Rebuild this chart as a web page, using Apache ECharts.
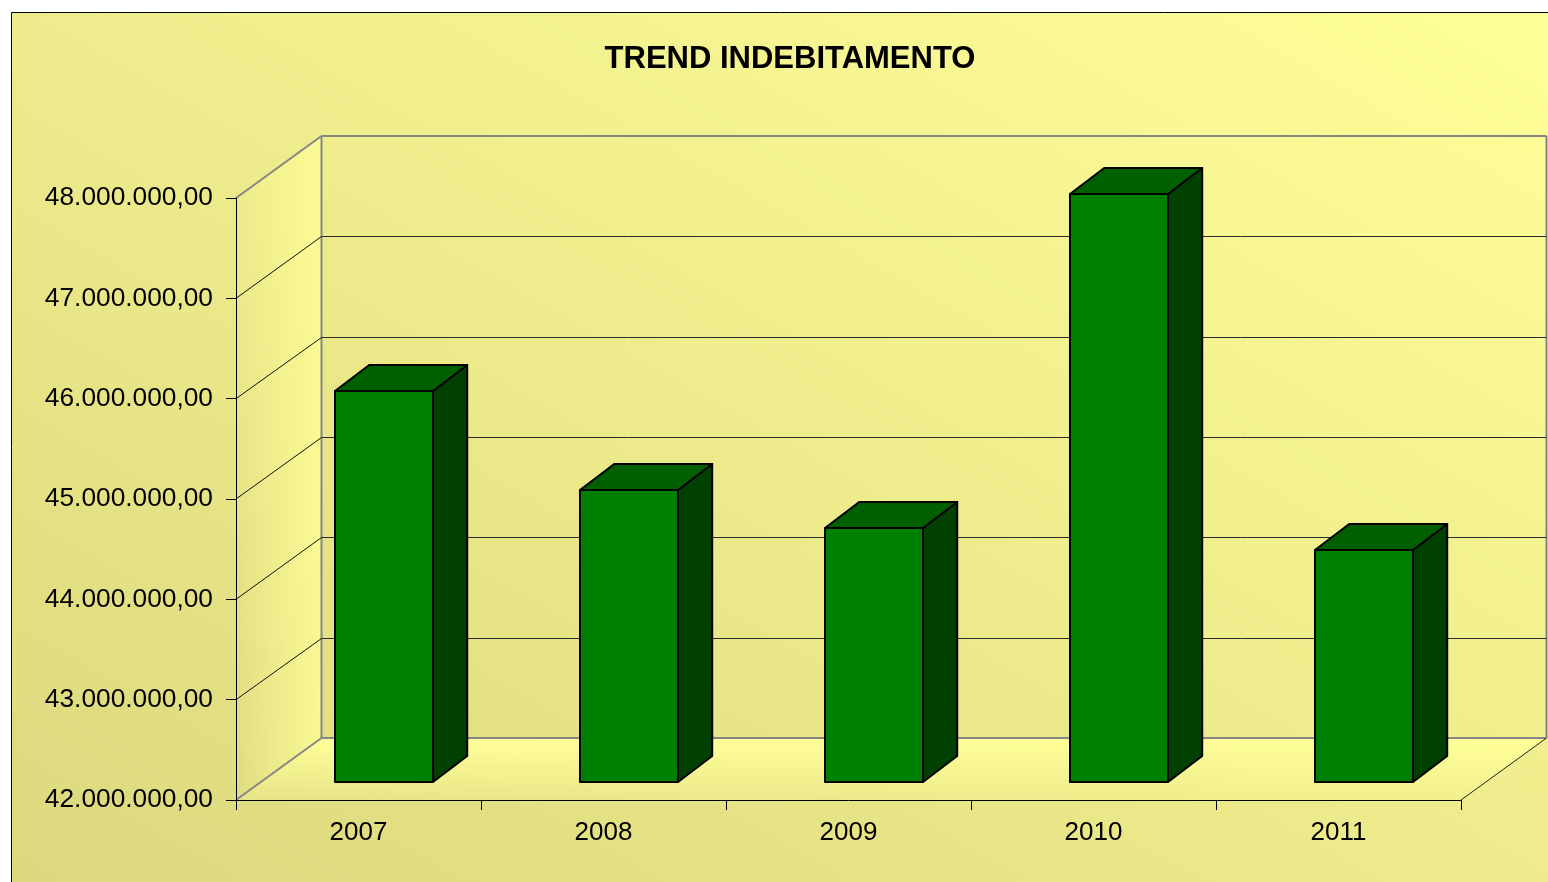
<!DOCTYPE html>
<html>
<head>
<meta charset="utf-8">
<title>Trend indebitamento</title>
<script src="https://cdn.jsdelivr.net/npm/echarts@6/dist/echarts.min.js"></script>
<style>
    html, body { margin: 0; padding: 0; background: #ffffff; overflow: hidden; }
    #chart { width: 1548px; height: 882px; }
</style>
</head>
<body>
<div id="chart"></div>
<script>
// dati
const categories = ["2007", "2008", "2009", "2010", "2011"];
const debtValues = [45900000, 44910000, 44530000, 47860000, 44310000];
const yTicks = [42000000, 43000000, 44000000, 45000000, 46000000, 47000000, 48000000];

// profondita' del finto 3D, in pixel
const depthX = 85.5;
const depthY = 62;

function formatEuro(v) {
    return String(v).replace(/\B(?=(\d{3})+$)/g, ".") + ",00";
}

function lineShape(x1, y1, x2, y2, stroke, width) {
    return {
        type: "line",
        shape: { x1: x1, y1: y1, x2: x2, y2: y2 },
        style: { stroke: stroke, lineWidth: width }
    };
}

// pareti e pavimento
function renderWalls(params, api) {
    const yTop = api.coord([0, yTicks[yTicks.length - 1]])[1];
    const yBottom = api.coord([0, yTicks[0]])[1];
    const x0 = params.coordSys.x;
    const x1 = x0 + params.coordSys.width;
    const grey = "#868686";
    return {
        type: "group",
        children: [
            {
                type: "polygon",
                shape: { points: [[x0, yTop], [x0 + depthX, yTop - depthY], [x0 + depthX, yBottom - depthY], [x0, yBottom]] },
                style: {
                    fill: new echarts.graphic.LinearGradient(0, 0, 1, 0, [
                        { offset: 0, color: "rgba(255,255,153,0)" },
                        { offset: 1, color: "rgba(255,255,153,0.8)" }
                    ])
                }
            },
            {
                type: "polygon",
                shape: { points: [[x0, yBottom], [x1, yBottom], [x1 + depthX, yBottom - depthY], [x0 + depthX, yBottom - depthY]] },
                style: {
                    fill: new echarts.graphic.LinearGradient(0, 0, 0, 1, [
                        { offset: 0, color: "rgba(255,255,153,1)" },
                        { offset: 1, color: "rgba(255,255,153,0.2)" }
                    ])
                }
            },
            lineShape(x0, yTop, x0 + depthX, yTop - depthY, grey, 2),
            lineShape(x0 + depthX, yTop - depthY, x1 + depthX, yTop - depthY, grey, 2),
            lineShape(x0 + depthX, yTop - depthY, x0 + depthX, yBottom - depthY, grey, 2),
            lineShape(x1 + depthX, yTop - depthY, x1 + depthX, yBottom - depthY, grey, 2),
            lineShape(x0 + depthX, yBottom - depthY, x1 + depthX, yBottom - depthY, grey, 2),
            lineShape(x0, yBottom, x0 + depthX, yBottom - depthY, grey, 2),
            lineShape(x1, yBottom, x1 + depthX, yBottom - depthY, "#222222", 1)
        ]
    };
}

// griglia: diagonale sulla parete sinistra e orizzontale su quella di fondo
function renderGridLine(params, api) {
    const y = api.coord([0, api.value(1)])[1];
    const x0 = params.coordSys.x;
    const x1 = x0 + params.coordSys.width;
    const yBack = Math.round(y - depthY) + 0.5;
    return {
        type: "group",
        children: [
            lineShape(x0, y, x0 + depthX, yBack, "#111111", 1),
            lineShape(x0 + depthX, yBack, x1 + depthX, yBack, "#2a2a2a", 1)
        ]
    };
}

// barra: fronte, tetto e fianco
function renderBar(params, api) {
    const cat = api.value(0);
    const top = api.coord([cat, api.value(1)]);
    const base = api.coord([cat, yTicks[0]]);
    const band = api.size([1, 0])[0];
    const w = band * 0.4;
    const offX = depthX * 0.3;
    const offY = depthY * 0.29;
    const dX = depthX * 0.4;
    const dY = depthY * 0.42;
    const left = Math.round(top[0] - w / 2 + offX);
    const right = left + Math.round(w);
    const yTop = Math.round(top[1] - offY);
    const yBase = Math.round(base[1] - offY);
    const border = { stroke: "#000000", lineWidth: 2, lineJoin: "round" };
    return {
        type: "group",
        children: [
            {
                type: "polygon",
                shape: { points: [[right, yTop], [right + dX, yTop - dY], [right + dX, yBase - dY], [right, yBase]] },
                style: Object.assign({ fill: "#004000" }, border)
            },
            {
                type: "polygon",
                shape: { points: [[left, yTop], [left + dX, yTop - dY], [right + dX, yTop - dY], [right, yTop]] },
                style: Object.assign({ fill: "#006000" }, border)
            },
            {
                type: "rect",
                shape: { x: left, y: yTop, width: right - left, height: yBase - yTop },
                style: Object.assign({ fill: "#008000" }, border)
            }
        ]
    };
}

const option = {
    animation: false,
    backgroundColor: "#ffffff",
    textStyle: { fontFamily: "Liberation Sans" },
    title: {
        text: "TREND INDEBITAMENTO",
        left: 785,
        top: 39,
        textAlign: "center",
        textStyle: { color: "#000000", fontSize: 31, fontWeight: "bold", fontFamily: "Liberation Sans" }
    },
    // sfondo: area del grafico tagliata a destra e in basso
    graphic: [{
        type: "rect",
        z: -10,
        shape: { x: 11.5, y: 12.5, width: 1600, height: 900 },
        style: {
            fill: new echarts.graphic.LinearGradient(12, 882, 758, -435, [
                { offset: 0, color: "#dcd87e" },
                { offset: 1, color: "#ffff99" }
            ], true),
            stroke: "#000000",
            lineWidth: 1
        }
    }],
    grid: { left: 236, top: 198, width: 1225, height: 602 },
    xAxis: {
        type: "category",
        data: categories,
        z: 5,
        axisLine: { show: true, lineStyle: { color: "#000000", width: 1 } },
        axisTick: { show: true, alignWithLabel: false, length: 10, lineStyle: { color: "#000000", width: 1 } },
        axisLabel: { color: "#000000", fontSize: 26, margin: 20, fontFamily: "Liberation Sans" },
        splitLine: { show: false }
    },
    yAxis: {
        type: "value",
        min: yTicks[0],
        max: yTicks[yTicks.length - 1],
        interval: 1000000,
        z: 5,
        axisLine: { show: true, lineStyle: { color: "#000000", width: 1 } },
        axisTick: { show: true, length: 10, lineStyle: { color: "#000000", width: 1 } },
        axisLabel: { color: "#000000", fontSize: 26.3, margin: 23, padding: [4, 0, 0, 0], formatter: formatEuro, fontFamily: "Liberation Sans" },
        splitLine: { show: false }
    },
    series: [
        { type: "custom", z: 1, silent: true, renderItem: renderWalls, data: [[0, yTicks[0]]] },
        { type: "custom", z: 2, silent: true, renderItem: renderGridLine, data: yTicks.slice(1, -1).map(function (v) { return [0, v]; }) },
        { type: "custom", z: 3, renderItem: renderBar, data: debtValues.map(function (v, i) { return [i, v]; }) }
    ]
};

const myChart = echarts.init(document.getElementById("chart"));
myChart.setOption(option);
window.addEventListener("resize", function () {
    myChart.resize();
});
</script>
</body>
</html>
